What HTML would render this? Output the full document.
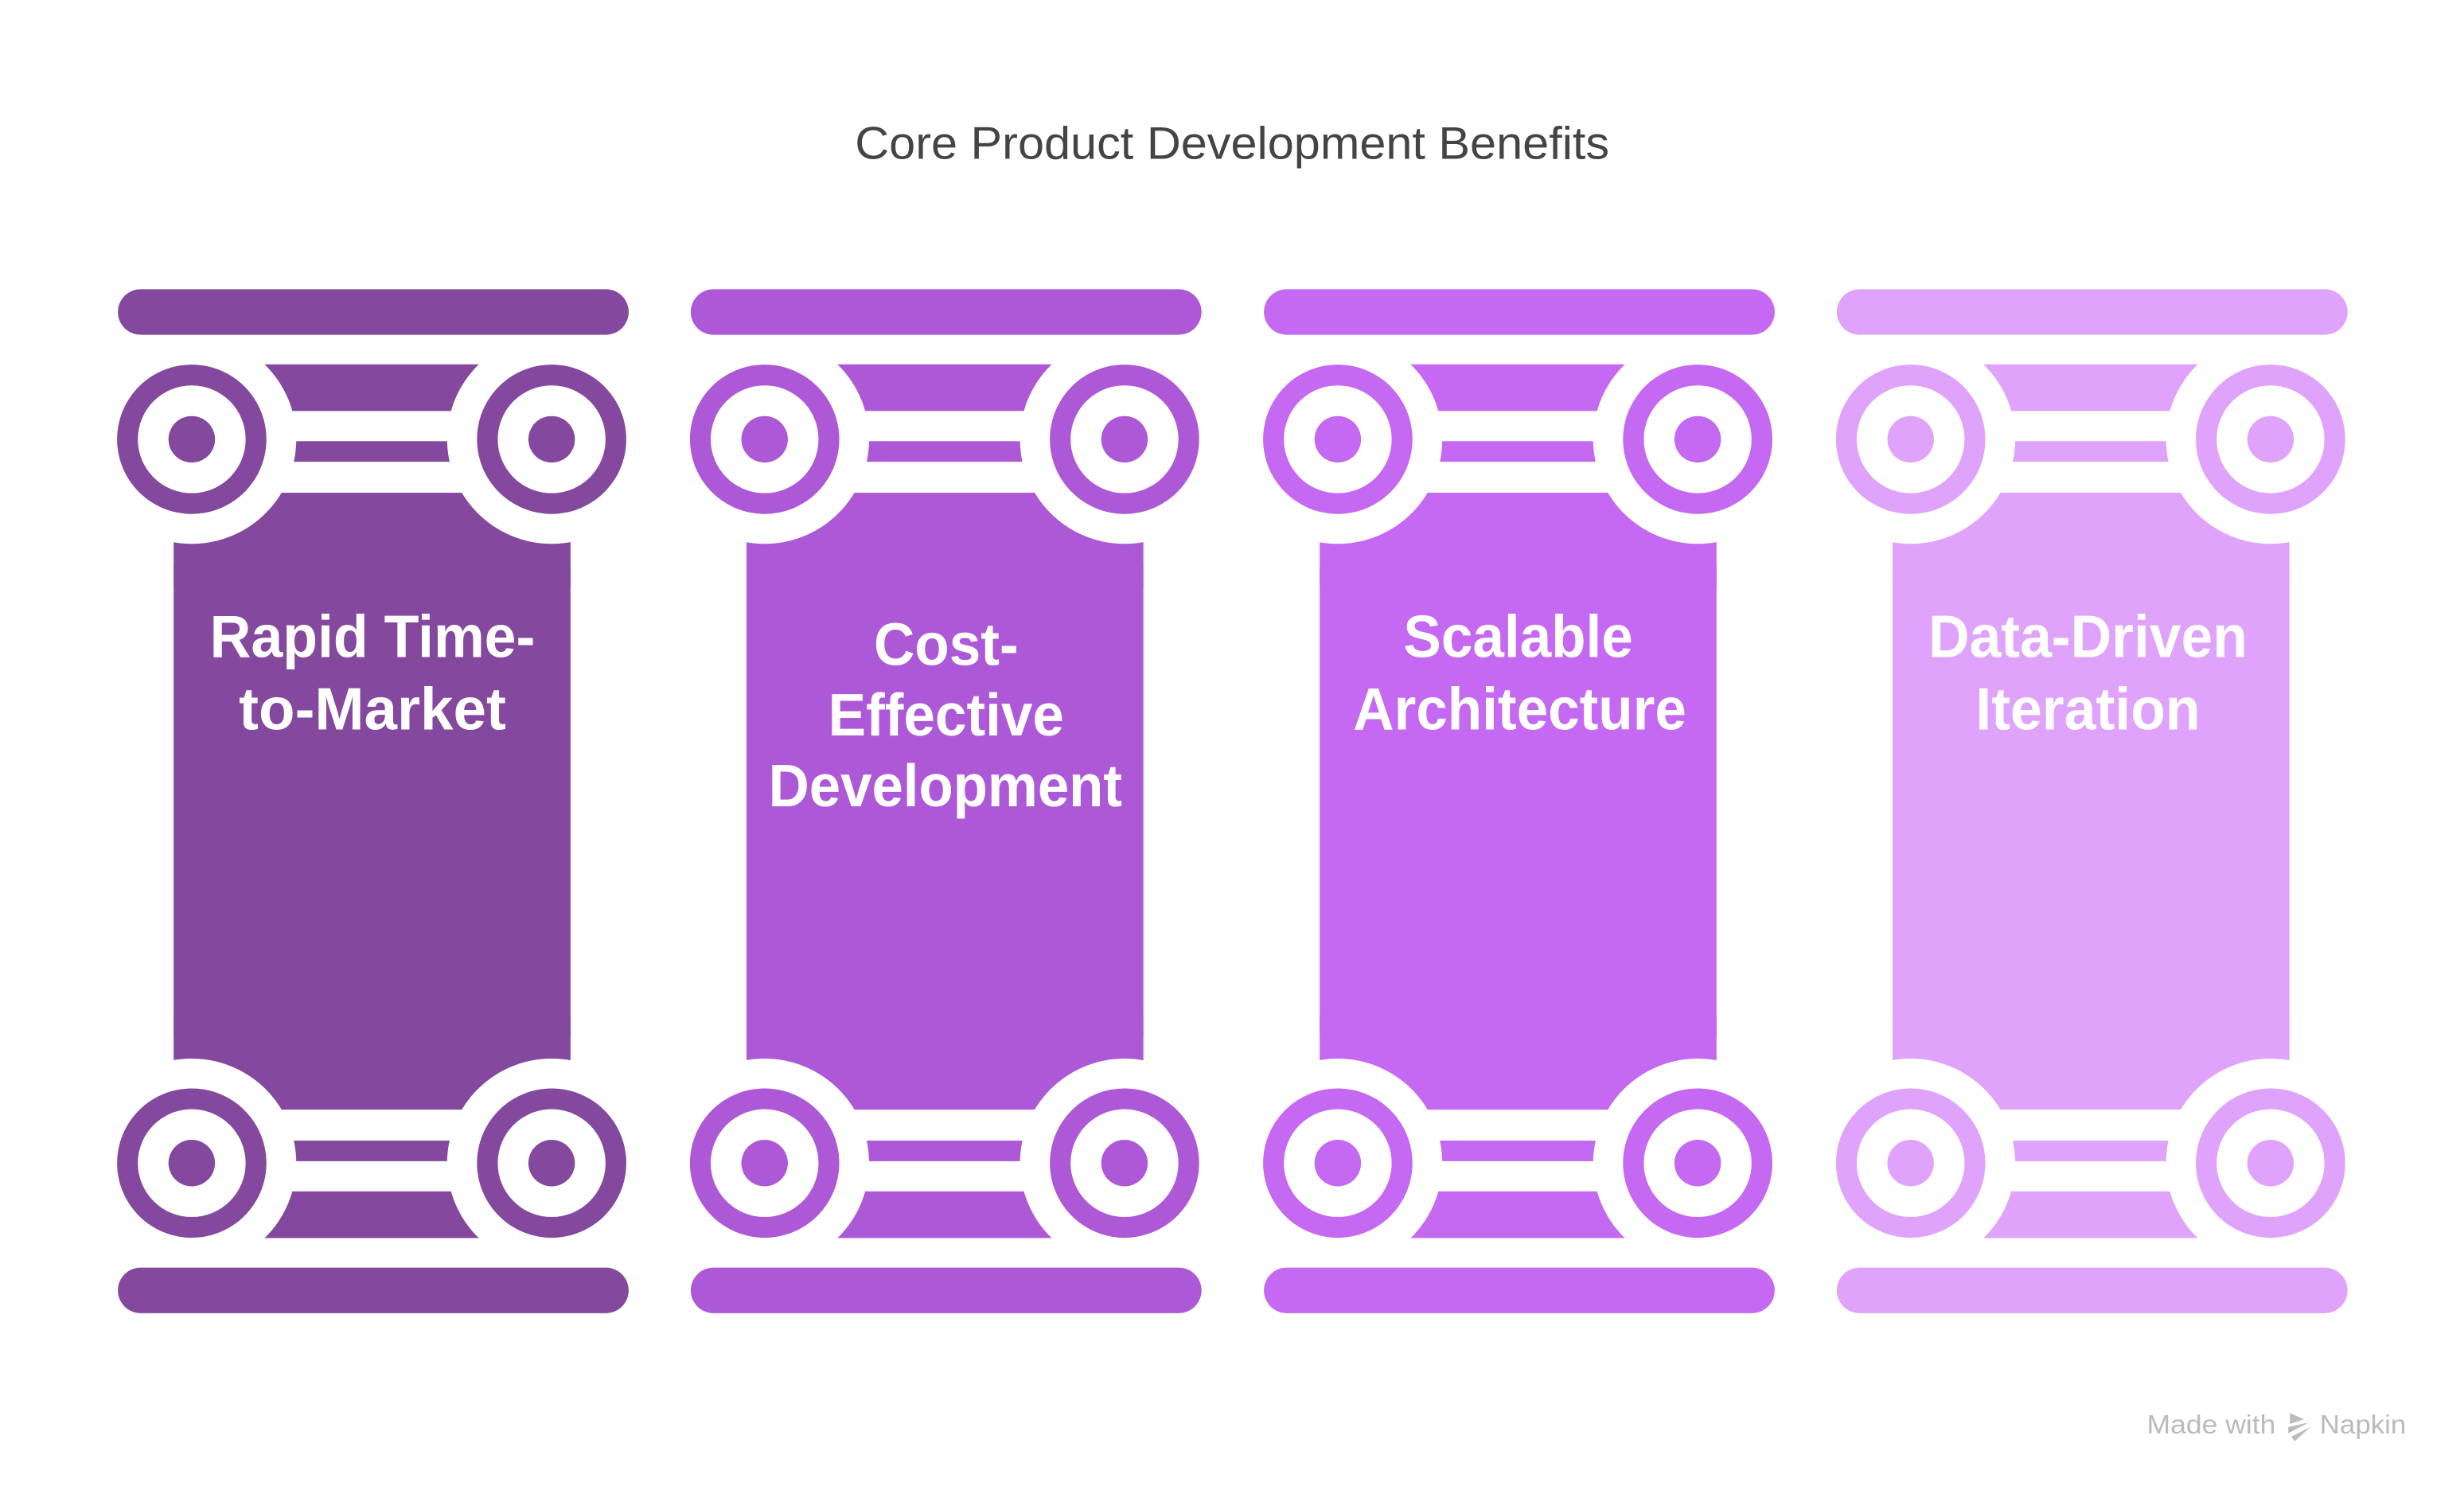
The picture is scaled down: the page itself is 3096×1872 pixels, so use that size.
<!DOCTYPE html>
<html><head><meta charset="utf-8"><style>html,body{margin:0;padding:0;background:#fff}svg{display:block}</style></head>
<body>
<svg width="3096" height="1872" viewBox="0 0 1567.8 948" preserveAspectRatio="none" xmlns="http://www.w3.org/2000/svg">
<defs>
<g id="cap">
  <rect x="110.5" y="231.8" width="252.5" height="29.7"/>
  <rect x="110.5" y="280.7" width="252.5" height="13.1"/>
  <rect x="110.5" y="313.5" width="252.5" height="60"/>
  <circle cx="122" cy="279.5" r="66.5" fill="#fff"/>
  <circle cx="351" cy="279.5" r="66.5" fill="#fff"/>
  <circle cx="122" cy="279.5" r="47.5"/>
  <circle cx="122" cy="279.5" r="34.3" fill="#fff"/>
  <circle cx="122" cy="279.5" r="14.8"/>
  <circle cx="351" cy="279.5" r="47.5"/>
  <circle cx="351" cy="279.5" r="34.3" fill="#fff"/>
  <circle cx="351" cy="279.5" r="14.8"/>
  <rect x="75" y="184" width="325" height="29" rx="14.5"/>
</g>
<g id="pillar">
  <rect x="110.5" y="360" width="252.5" height="300"/>
  <use href="#cap"/>
  <use href="#cap" transform="translate(0,1019.5) scale(1,-1)"/>
</g>
</defs>
<text x="784" y="101" font-family="Liberation Sans, sans-serif" font-size="29" fill="#444" text-anchor="middle" textLength="480" lengthAdjust="spacingAndGlyphs">Core Product Development Benefits</text>
<g fill="#84499E"><use href="#pillar"/></g>
<g fill="#AD59D7" transform="translate(364.5,0)"><use href="#pillar"/></g>
<g fill="#C568F2" transform="translate(729.2,0)"><use href="#pillar"/></g>
<g fill="#E0A3FB" transform="translate(1093.7,0)"><use href="#pillar"/></g>
<g font-family="Liberation Sans, sans-serif" font-weight="bold" font-size="38" fill="#fff" text-anchor="middle">
<text x="237" y="418" textLength="207" lengthAdjust="spacingAndGlyphs">Rapid Time-</text>
<text x="237" y="464" textLength="170" lengthAdjust="spacingAndGlyphs">to-Market</text>
<text x="602" y="423" textLength="92" lengthAdjust="spacingAndGlyphs">Cost-</text>
<text x="602" y="468" textLength="150" lengthAdjust="spacingAndGlyphs">Effective</text>
<text x="601.5" y="513" textLength="225" lengthAdjust="spacingAndGlyphs">Development</text>
<text x="966" y="418" textLength="146" lengthAdjust="spacingAndGlyphs">Scalable</text>
<text x="967" y="464" textLength="212" lengthAdjust="spacingAndGlyphs">Architecture</text>
<text x="1328.5" y="418" textLength="203" lengthAdjust="spacingAndGlyphs">Data-Driven</text>
<text x="1328.5" y="464" textLength="143" lengthAdjust="spacingAndGlyphs">Iteration</text>
</g>
<g font-family="Liberation Sans, sans-serif" font-size="17" fill="#bbb">
<text x="1366" y="912" textLength="82" lengthAdjust="spacingAndGlyphs">Made with</text>
<path d="M1457 899 L1466 903 L1457 906 Z M1456 908 L1469 905 L1456 912 Z M1458 914 L1470 908 L1460 917 Z"/>
<text x="1476" y="912" textLength="55" lengthAdjust="spacingAndGlyphs">Napkin</text>
</g>
</svg>
</body></html>
